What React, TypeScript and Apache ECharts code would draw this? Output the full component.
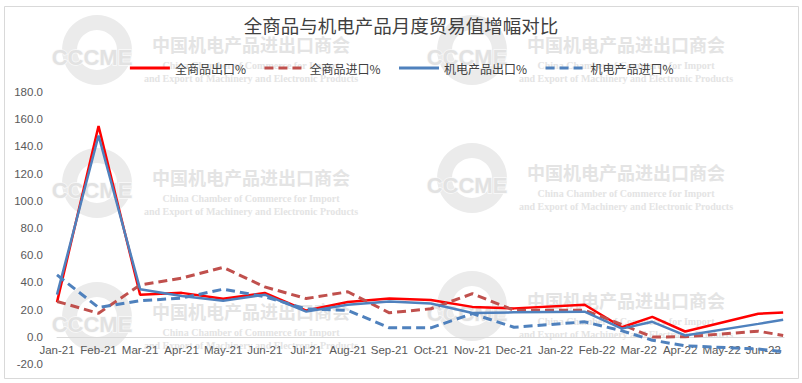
import React, { useEffect, useRef } from "react";
import * as echarts from "echarts";

const title = "全商品与机电产品月度贸易值增幅对比";
const months = [
  "Jan-21", "Feb-21", "Mar-21", "Apr-21", "May-21", "Jun-21", "Jul-21", "Aug-21", "Sep-21",
  "Oct-21", "Nov-21", "Dec-21", "Jan-22", "Feb-22", "Mar-22", "Apr-22", "May-22", "Jun-22",
];
// horizontal position of each data point, in month units
const xPos = [0, 1, 2, 3, 4, 5, 6, 7, 8, 9, 10, 11, 12.7, 13.6, 14.33, 15.12, 16.88, 17.48];
const seriesNames = ["全商品出口%", "全商品进口%", "机电产品出口%", "机电产品进口%"];
const allExport = [25.5, 155, 31, 32.3, 27.9, 32.2, 19.3, 25.6, 28.1, 27.1, 22, 20.9, 23.6, 7, 14.7, 3.9, 16.9, 17.9];
const allImport = [26, 17.3, 38.1, 43.1, 51.1, 36.7, 28.1, 33.1, 17.6, 20.6, 31.7, 19.5, 19.5, 9, -0.1, 0, 4.1, 1.0];
const elecExport = [31, 148, 35, 30, 26.5, 31, 18.5, 23.5, 26, 24.5, 17.5, 18, 18.5, 6, 11, 1, 9.5, 12.6];
const elecImport = [45.5, 21.5, 26.5, 28.5, 35, 29.5, 20.5, 19.5, 6.6, 6.6, 17, 7, 11, 4.4, -2.5, -6.6, -9, -11];
const yTicks = { min: -20, max: 180, interval: 20 };

const wmCN = "中国机电产品进出口商会";
const wmEN1 = "China Chamber of Commerce for Import";
const wmEN2 = "and Export of Machinery and Electronic Products";
const wmLogo = "CCCME";

function watermark(x: number, y: number) {
  const c = "#e4e4e4";
  return {
    type: "group",
    x,
    y,
    silent: true,
    z: 0,
    children: [
      { type: "ring", shape: { cx: -154, cy: 6, r: 35, r0: 20 }, style: { fill: "#ebebeb" } },
      {
        type: "text",
        x: -159,
        y: 13,
        style: {
          text: wmLogo, fill: "#e2e2e2", stroke: "#fafafa", lineWidth: 1.5,
          font: 'bold 22px "Liberation Sans", sans-serif', align: "center", verticalAlign: "middle",
        },
      },
      {
        type: "text", x: 0, y: 0,
        style: { text: wmCN, fill: c, font: 'bold 18px "Noto Sans CJK SC", sans-serif', align: "center", verticalAlign: "middle" },
      },
      {
        type: "text", x: 0, y: 21,
        style: { text: wmEN1, fill: c, font: 'bold 10px "Liberation Serif", serif', align: "center", verticalAlign: "middle" },
      },
      {
        type: "text", x: 0, y: 34,
        style: { text: wmEN2, fill: c, font: 'bold 10px "Liberation Serif", serif', align: "center", verticalAlign: "middle" },
      },
    ],
  };
}

export default function App() {
  const ref = useRef<HTMLDivElement>(null);
  useEffect(() => {
    document.body.style.margin = "0";
    const chart = echarts.init(ref.current!, null, { renderer: "svg" });
    const pair = (arr: number[]) => xPos.map((x, i) => [x, arr[i]]);
    const labelFont = { fontFamily: '"Liberation Sans", sans-serif', color: "#595959" };
    const mk = (name: string, data: number[], color: string, dashed: boolean) => ({
      name,
      type: "line",
      data: pair(data),
      symbol: "none",
      z: 3,
      lineStyle: { color, width: dashed ? 3 : 2.5, type: dashed ? [9, 5] : "solid", cap: "butt" },
      itemStyle: { color },
    });
    const gridTop = 92;
    const gridBottom = 19;
    const plotH = 383 - gridTop - gridBottom;
    const zeroOffset = (plotH * (0 - yTicks.min)) / (yTicks.max - yTicks.min);
    chart.setOption({
      animation: false,
      backgroundColor: "#ffffff",
      title: {
        text: title,
        left: "center",
        top: 11,
        textStyle: { fontFamily: '"Noto Sans CJK SC", sans-serif', fontSize: 18.5, fontWeight: "normal", color: "#404040" },
      },
      graphic: [
        {
          type: "rect", silent: true, z: 0,
          shape: { x: 4.5, y: 6.5, width: 794, height: 372 },
          style: { fill: "none", stroke: "#d9d9d9", lineWidth: 1 },
        },
        watermark(251, 44),
        watermark(626, 44),
        watermark(251, 177),
        watermark(626, 172),
        watermark(251, 311),
        watermark(626, 300),
      ],
      legend: {
        top: 57,
        left: "center",
        itemWidth: 40,
        itemHeight: 12,
        itemGap: 17,
        itemStyle: { opacity: 0 },
        lineStyle: { width: 3 },
        textStyle: { fontFamily: '"Noto Sans CJK SC", sans-serif', fontSize: 12, color: "#404040" },
        data: seriesNames,
      },
      grid: { left: 57, right: 18, top: gridTop, bottom: gridBottom, containLabel: false },
      xAxis: {
        type: "value",
        min: 0,
        max: 17.5,
        interval: 1,
        offset: -zeroOffset,
        axisLine: { show: true, onZero: false, lineStyle: { color: "#d9d9d9", width: 1 } },
        axisTick: { show: false },
        splitLine: { show: false },
        axisLabel: {
          ...labelFont,
          fontSize: 11.5,
          margin: 7,
          showMaxLabel: false,
          formatter: (v: number) => (Number.isInteger(v) && months[v] ? months[v] : ""),
        },
      },
      yAxis: {
        type: "value",
        min: yTicks.min,
        max: yTicks.max,
        interval: yTicks.interval,
        axisLine: { show: false },
        axisTick: { show: false },
        splitLine: { show: false },
        axisLabel: { ...labelFont, fontSize: 11.5, margin: 14, formatter: (v: number) => v.toFixed(1) },
      },
      series: [
        mk(seriesNames[0], allExport, "#ff0000", false),
        mk(seriesNames[1], allImport, "#c0504d", true),
        mk(seriesNames[2], elecExport, "#4f81bd", false),
        mk(seriesNames[3], elecImport, "#4f81bd", true),
      ],
    });
    return () => chart.dispose();
  }, []);
  return <div ref={ref} style={{ width: 802, height: 383 }} />;
}
